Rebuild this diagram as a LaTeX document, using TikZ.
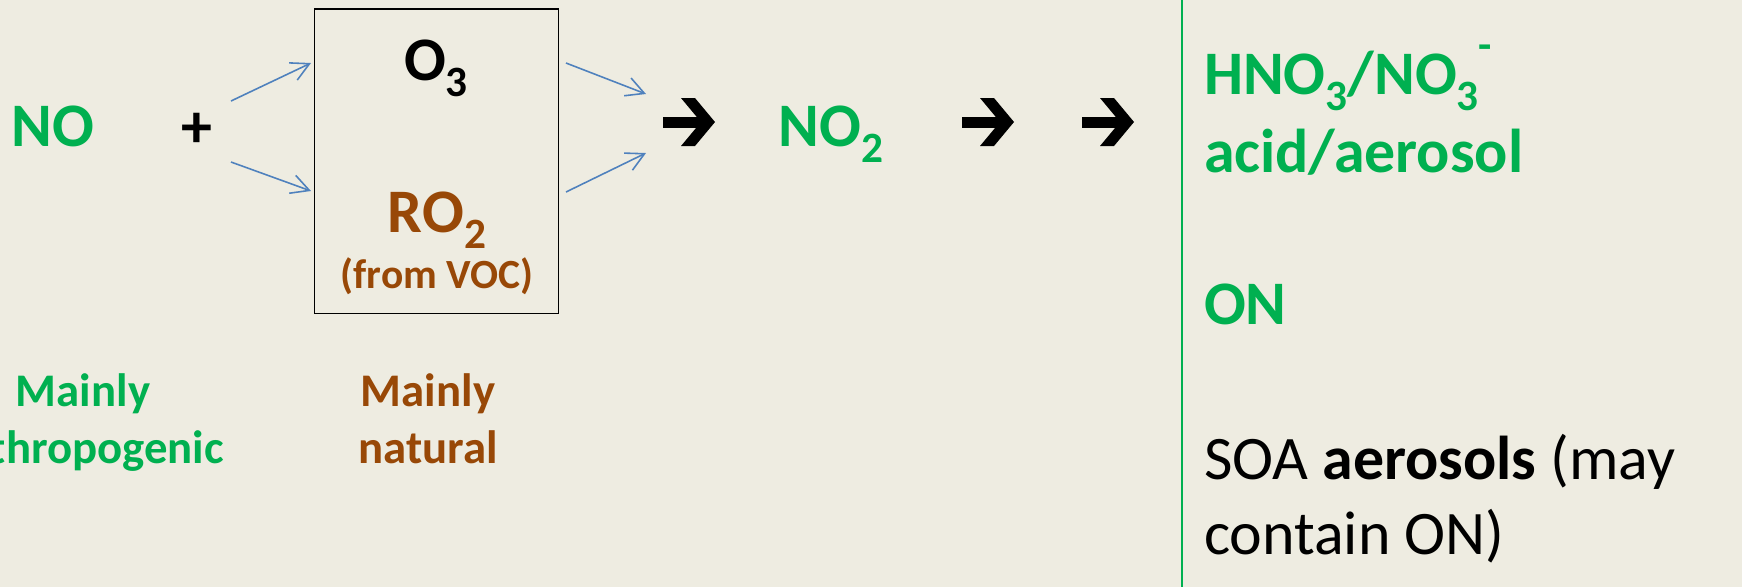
\documentclass[tikz,border=0pt]{standalone}
\usepackage{fontspec}
\setmainfont{Carlito}
\usetikzlibrary{arrows.meta}
\definecolor{bg}{HTML}{EEECE1}
\definecolor{grn}{HTML}{00B050}
\definecolor{brn}{HTML}{984807}
\definecolor{blu}{HTML}{4F81BD}
\newcommand{\csub}[1]{\raisebox{-0.26em}{\fontsize{12.3}{13}\selectfont #1}}
\newcommand{\csup}[1]{\raisebox{0.55em}{\fontsize{12.3}{13}\selectfont #1}}
\begin{document}
\begin{tikzpicture}[x=0.01cm,y=-0.01cm,
  big/.style={font=\fontsize{17.6}{21}\selectfont\bfseries, inner sep=0pt, outer sep=0pt},
  reg/.style={font=\fontsize{17.6}{21}\selectfont, inner sep=0pt, outer sep=0pt},
  lab/.style={font=\fontsize{13.3}{16}\selectfont\bfseries, inner sep=0pt, outer sep=0pt},
  small/.style={font=\fontsize{11.8}{14}\selectfont\bfseries, inner sep=0pt, outer sep=0pt},
  barb/.style={blu, line width=0.45pt, -{Straight Barb[length=1.8mm,width=1.9mm]}},
  fatarrow/.style={fill=black, draw=none}]
\useasboundingbox (0,0) rectangle (1742,587);
\fill[bg] (0,0) rectangle (1742,587);

% left part
\node[big, text=grn, anchor=base] (no) at (53,146) {NO};
\node[big, anchor=center] (plus) at (197,130) {+};
\node[draw, line width=0.5pt, minimum width=2.438cm, minimum height=3.04cm, inner sep=0pt] (box) at (436.5,161.3) {};
\node[big, anchor=base] (o3) at (436,80) {O\csub{3}};
\node[big, text=brn, anchor=base] (ro2) at (437,232) {RO\csub{2}};
\node[small, text=brn, anchor=base] (voc) at (437,288) {(from VOC)};

\node[lab, text=grn, anchor=base] (m1a) at (83,406) {Mainly};
\node[lab, text=grn, anchor=base] (m1b) at (83,463) {anthropogenic};
\node[lab, text=brn, anchor=base] (m2a) at (428,406) {Mainly};
\node[lab, text=brn, anchor=base] (m2b) at (428,463) {natural};

% blue arrows
\coordinate (lu1) at (231,101); \coordinate (lu2) at (311,63);
\coordinate (ll1) at (231,162); \coordinate (ll2) at (311,191);
\coordinate (ru1) at (566,63);  \coordinate (ru2) at (646,94);
\coordinate (rl1) at (566,192); \coordinate (rl2) at (646,153);
\draw[barb] (lu1) -- (lu2);
\draw[barb] (ll1) -- (ll2);
\draw[barb] (ru1) -- (ru2);
\draw[barb] (rl1) -- (rl2);

% NO2
\node[big, text=grn, anchor=base] (no2) at (831,146) {NO\csub{2}};

% fat arrows
\foreach \tx in {715,1014,1134}{
  \fill[fatarrow] (\tx-52,116.5) rectangle (\tx-12,127.5);
  \fill[fatarrow] (\tx-34,98) -- (\tx-20,98) -- (\tx,122) -- (\tx-20,146) -- (\tx-34,146) -- (\tx-14,122) -- cycle;
}

% divider
\coordinate (dt) at (1182,0); \coordinate (db) at (1182,587);
\draw[grn, line width=0.6pt] (dt) -- (db);

% right column
\node[big, text=grn, anchor=base west] (hno) at (1204,94) {HNO\csub{3}/NO\csub{3}\csup{-}};
\node[big, text=grn, anchor=base west] (acid) at (1204,172) {acid/aerosol};
\node[big, text=grn, anchor=base west] (on) at (1204,324) {ON};
\node[reg, anchor=base west] (soa) at (1204,479) {SOA \textbf{aerosols} (may};
\node[reg, anchor=base west] (cont) at (1204,554) {contain ON)};
\end{tikzpicture}
\end{document}
